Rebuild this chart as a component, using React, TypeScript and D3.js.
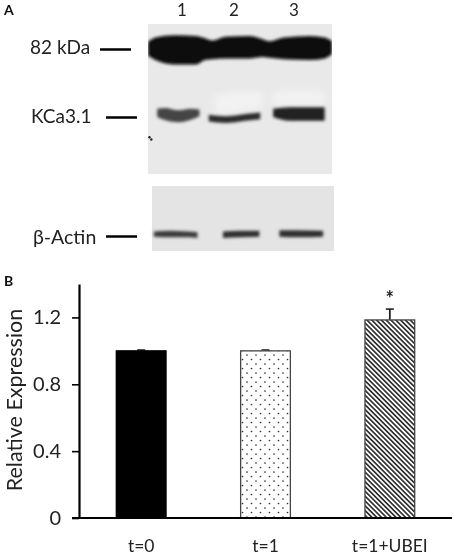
import React, { useEffect, useRef } from 'react';
import * as d3 from 'd3';

// bar chart values
const conditions = ['t=0', 't=1', 't=1+UBEI'];
const expression = [1.0, 1.0, 1.185];
const errorTop = [1.005, 1.005, 1.25];
const yTicks = [0, 0.4, 0.8, 1.2];

// blot bands, in percent of the blot panel
type P = [number, number, number];
const heavyBand: P[] = [
    [0, 12, 21], [4, 9, 24], [15, 7.5, 27], [26, 8, 27], [31, 9.5, 24], [35, 11, 23.5], [42, 8.5, 23],
    [55, 8, 23], [62, 10, 22], [66, 11.5, 22.5], [74, 9, 23.5], [88, 8, 24], [96, 9, 23], [100, 11.5, 20],
];
const kcaLane1: P[] = [[5, 56.5, 62], [9, 56, 64], [17, 57.5, 65.5], [23, 56.5, 64], [28, 57, 61.5]];
const kcaLane2: P[] = [[33, 60.5, 65], [42, 61.5, 66], [53, 60, 64.5], [61, 59, 63.5]];
const kcaLane3: P[] = [[68, 56.5, 62], [77, 55.5, 64.5], [88, 55.5, 64.5], [96, 55.5, 64.5]];
const haloLane2: P[] = [[36, 48, 60], [50, 45, 58], [62, 45, 56]];
const haloLane3: P[] = [[68, 45, 54], [82, 44, 54], [96, 45, 54]];
const actinLane1: P[] = [[1, 70, 78], [10, 69, 79], [20, 70, 79], [25, 71, 80]];
const actinLane2: P[] = [[39, 70, 80], [50, 69, 79], [59, 69, 78]];
const actinLane3: P[] = [[70, 68, 78], [80, 68, 79], [94, 69, 78]];
const specks = [[0.8, 75.5], [1.8, 77]];

const main = { x0: 148, x1: 332, y0: 24, y1: 174 };
const lower = { x0: 152, x1: 334, y0: 186, y1: 251 };

const font = 'Lato, "Open Sans", sans-serif';

function band(points: P[], panel: typeof main) {
    const x = d3.scaleLinear().domain([0, 100]).range([panel.x0, panel.x1]);
    const y = d3.scaleLinear().domain([0, 100]).range([panel.y0, panel.y1]);
    return d3.area<P>()
        .x(d => x(d[0]))
        .y0(d => y(d[1]))
        .y1(d => y(d[2]))
        .curve(d3.curveMonotoneX)(points) as string;
}

export default function App() {
    const axisRef = useRef<SVGGElement>(null);

    const y = d3.scaleLinear().domain([0, 1.4]).range([518, 284]);
    const x = d3.scaleBand().domain(conditions).range([79, 452]).paddingInner(0.6).paddingOuter(0.3);
    const fills = ['#000', 'url(#dots)', 'url(#hatch)'];

    useEffect(() => {
        const g = d3.select(axisRef.current as SVGGElement);
        g.call(d3.axisLeft(y).tickValues(yTicks).tickSize(7).tickSizeOuter(0).tickPadding(11).tickFormat(d3.format('~g') as any));
        g.selectAll('.domain').attr('stroke', '#000').attr('stroke-width', 2.2);
        g.selectAll('line').attr('stroke', '#000').attr('stroke-width', 1.6);
        g.selectAll('text').attr('font-family', font).attr('font-size', 20).attr('fill', '#222');
    }, []);

    return (
        <svg width={454} height={557} style={{ position: 'absolute', left: 0, top: 0, background: '#fff' }}>
            <defs>
                <filter id="soft" x="-20%" y="-60%" width="140%" height="220%"><feGaussianBlur stdDeviation="1.5" /></filter>
                <filter id="halo" x="-30%" y="-60%" width="160%" height="220%"><feGaussianBlur stdDeviation="3" /></filter>
                <filter id="jpeg" x="0" y="0" width="100%" height="100%"><feGaussianBlur stdDeviation="0.4" /></filter>
                <clipPath id="clipMain"><rect x={main.x0} y={main.y0} width={main.x1 - main.x0} height={main.y1 - main.y0} /></clipPath>
                <pattern id="dots" width={9} height={9} patternUnits="userSpaceOnUse" x={2} y={2}>
                    <circle cx={2} cy={2} r={0.85} fill="#333" />
                    <circle cx={6.5} cy={6.5} r={0.85} fill="#333" />
                </pattern>
                <pattern id="hatch" width={3.4} height={3.4} patternUnits="userSpaceOnUse" patternTransform="rotate(45)">
                    <rect width={3.4} height={1.7} fill="#333" />
                </pattern>
            </defs>

            <g filter="url(#jpeg)">
                <rect width={454} height={557} fill="#fff" />
                <text x={4} y={15} fontFamily={font} fontWeight={700} fontSize={14} fill="#111">A</text>
                {['1', '2', '3'].map((d, i) => (
                    <text key={d} x={[182, 234, 294][i]} y={16} textAnchor="middle" fontFamily={font} fontSize={17} fill="#222">{d}</text>
                ))}

                {/* western blot panels */}
                <rect x={main.x0} y={main.y0} width={main.x1 - main.x0} height={main.y1 - main.y0} fill="#e9e9e9" />
                <g clipPath="url(#clipMain)">
                    <path d={band(haloLane2, main)} fill="#f2f2f2" filter="url(#halo)" />
                    <path d={band(haloLane3, main)} fill="#f2f2f2" filter="url(#halo)" />
                    <path d={band(heavyBand, main)} fill="#0b0b0b" filter="url(#soft)" />
                    <path d={band(kcaLane1, main)} fill="#444" filter="url(#soft)" />
                    <path d={band(kcaLane2, main)} fill="#2b2b2b" filter="url(#soft)" />
                    <path d={band(kcaLane3, main)} fill="#222" filter="url(#soft)" />
                    {specks.map((s, i) => (
                        <circle key={i} cx={main.x0 + s[0] * 1.84} cy={main.y0 + s[1] * 1.5} r={1.2} fill="#222" />
                    ))}
                </g>
                <rect x={lower.x0} y={lower.y0} width={lower.x1 - lower.x0} height={lower.y1 - lower.y0} fill="#e4e4e4" />
                <path d={band(actinLane1, lower)} fill="#3a3a3a" filter="url(#soft)" />
                <path d={band(actinLane2, lower)} fill="#2f2f2f" filter="url(#soft)" />
                <path d={band(actinLane3, lower)} fill="#2f2f2f" filter="url(#soft)" />

                {/* marker labels and ticks */}
                <text x={30} y={54} fontFamily={font} fontSize={19} fill="#222">82 kDa</text>
                <text x={31} y={123} fontFamily={font} fontSize={19} fill="#222">KCa3.1</text>
                <text x={33} y={244} fontFamily={font} fontSize={19.5} fill="#222">β-Actin</text>
                <line x1={100} x2={131} y1={49.5} y2={49.5} stroke="#000" strokeWidth={2.5} />
                <line x1={106} x2={137} y1={117.5} y2={117.5} stroke="#000" strokeWidth={2.5} />
                <line x1={106} x2={137} y1={236.5} y2={236.5} stroke="#000" strokeWidth={2.5} />

                <text x={4} y={286} fontFamily={font} fontWeight={700} fontSize={14} fill="#111">B</text>

                {/* bars */}
                {conditions.map((c, i) => {
                    const cx = (x(c) as number) + x.bandwidth() / 2;
                    return (
                        <g key={c}>
                            <line x1={cx} x2={cx} y1={y(expression[i])} y2={y(errorTop[i])} stroke="#222" strokeWidth={1.8} />
                            <line x1={cx - 4} x2={cx + 4} y1={y(errorTop[i])} y2={y(errorTop[i])} stroke="#222" strokeWidth={1.6} />
                            <rect x={x(c)} y={y(expression[i])} width={x.bandwidth()} height={y(0) - y(expression[i])}
                                fill={i === 0 ? '#000' : '#fff'} />
                            <rect x={x(c)} y={y(expression[i])} width={x.bandwidth()} height={y(0) - y(expression[i])}
                                fill={fills[i]} stroke={i === 0 ? '#000' : '#444'} strokeWidth={1.3} />
                            <text x={cx} y={552} textAnchor="middle" fontFamily={font} fontSize={17.5} fill="#222">{c}</text>
                        </g>
                    );
                })}
                <text x={(x('t=1+UBEI') as number) + x.bandwidth() / 2} y={306} textAnchor="middle" fontFamily={font} fontWeight={700} fontSize={20} fill="#222">*</text>

                <g ref={axisRef} transform="translate(79,0)" />
                <line x1={72} x2={452} y1={y(0)} y2={y(0)} stroke="#000" strokeWidth={2} />
                <text transform="translate(21.5,400) rotate(-90)" textAnchor="middle" fontFamily={font} fontSize={21.5} fill="#222">Relative Expression</text>
            </g>
        </svg>
    );
}
